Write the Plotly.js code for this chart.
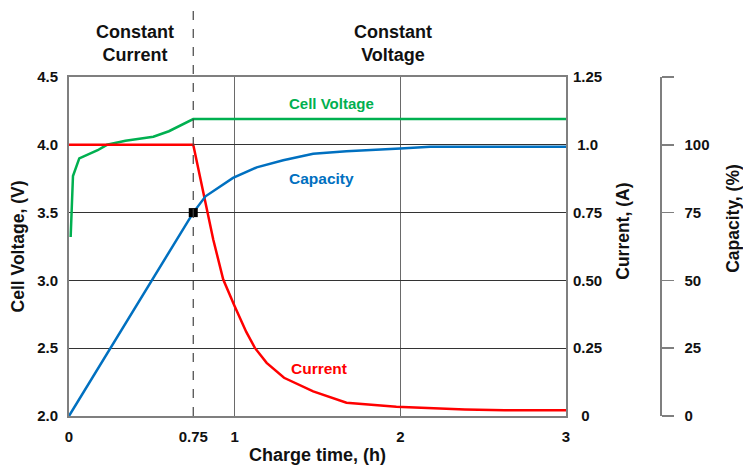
<!DOCTYPE html>
<html>
<head>
<meta charset="utf-8">
<script src="https://cdn.plot.ly/plotly-3.0.1.min.js"></script>
<style>html,body{margin:0;padding:0;background:#fff;}#chart{width:743px;height:467px;}</style>
</head>
<body>
<div id="chart"></div>
<script>
// Charge time (h) tick labels
const timeTicks = [0, 0.75, 1, 2, 3];
const timeTickText = ['0', '0.75', '1', '2', '3'];

// Cell voltage (V)
const voltageTime = [0.01, 0.024, 0.062, 0.173, 0.229, 0.341, 0.425, 0.509, 0.603, 0.733, 0.75, 3.0];
const voltageValues = [3.32, 3.77, 3.90, 3.96, 4.00, 4.03, 4.044, 4.06, 4.10, 4.18, 4.19, 4.19];

// Current (A)
const currentTime = [0, 0.75, 0.871, 0.931, 1.0, 1.07, 1.122, 1.193, 1.298, 1.474, 1.675, 1.81, 1.976, 2.39, 2.63, 3.0];
const currentValues = [1.0, 1.0, 0.65, 0.503, 0.405, 0.31, 0.251, 0.196, 0.141, 0.091, 0.049, 0.042, 0.034, 0.024, 0.021, 0.021];

// Capacity (%)
const capacityTime = [0, 0.75, 0.824, 0.99, 1.133, 1.293, 1.474, 1.675, 2.0, 2.18, 3.0];
const capacityValues = [0, 75, 81, 87.8, 91.7, 94.3, 96.7, 97.6, 98.6, 99.3, 99.3];

// Transition point (end of constant current)
const transitionIndex = 1;

// Axis ticks
const voltageTicks = [2.0, 2.5, 3.0, 3.5, 4.0, 4.5];
const currentTicks = [0, 0.25, 0.5, 0.75, 1.0, 1.25];
const currentTickText = ['\u20070', '0.25', '0.50', '0.75', '\u20081.0', '1.25'];
const capacityTicks = [0, 25, 50, 75, 100, 125];
const capacityTickText = ['0', '25', '50', '75', '100', ''];

const FONT = '"Liberation Sans", Arial, Helvetica, sans-serif';
const GREEN = '#00B050', BLUE = '#0070C0', RED = '#FF0000', AXIS = '#7f7f7f';

const traces = [
  {x: voltageTime, y: voltageValues, yaxis: 'y', type: 'scatter', mode: 'lines',
   line: {color: GREEN, width: 2.5}, name: 'Cell Voltage', hoverinfo: 'skip'},
  {x: capacityTime, y: capacityValues, yaxis: 'y3', type: 'scatter', mode: 'lines',
   line: {color: BLUE, width: 2.5}, name: 'Capacity', hoverinfo: 'skip'},
  {x: currentTime, y: currentValues, yaxis: 'y2', type: 'scatter', mode: 'lines',
   line: {color: RED, width: 2.5}, name: 'Current', hoverinfo: 'skip'},
  {x: [capacityTime[transitionIndex]], y: [capacityValues[transitionIndex]], yaxis: 'y3',
   type: 'scatter', mode: 'markers', marker: {symbol: 'square', color: '#000', size: 9},
   name: 'CC/CV', hoverinfo: 'skip'}
];

const tickFont = {family: FONT, size: 15, color: '#111', weight: 'bold'};
const titleFont = {family: FONT, size: 17.5, color: '#111', weight: 'bold'};

const layout = {
  width: 743, height: 467,
  margin: {l: 69, r: 83, t: 77, b: 50.5, pad: 0},
  paper_bgcolor: '#fff', plot_bgcolor: '#fff',
  showlegend: false,
  xaxis: {
    domain: [0, 497 / 591],
    range: [0, 3], tickvals: timeTicks, ticktext: timeTickText,
    showgrid: false, zeroline: false,
    showline: true, mirror: true, linecolor: AXIS, linewidth: 2,
    ticks: '', tickfont: tickFont, ticklabelstandoff: 6,
    minor: {tickvals: [1, 2], showgrid: true, gridcolor: '#6a6a6a', gridwidth: 1.5, ticks: ''},
    title: {text: 'Charge time, (h)', font: {family: FONT, size: 18, color: '#111', weight: 'bold'}, standoff: 4}
  },
  yaxis: {
    range: [2, 4.5], tickvals: voltageTicks, tickformat: '.1f',
    showgrid: true, gridcolor: '#333', gridwidth: 1, zeroline: false,
    showline: true, mirror: true, linecolor: AXIS, linewidth: 2,
    ticks: '', tickfont: tickFont, ticklabelstandoff: 6,
    title: {text: 'Cell Voltage, (V)', font: titleFont, standoff: 8}
  },
  yaxis2: {
    overlaying: 'y', side: 'right', anchor: 'x',
    range: [0, 1.25], tickvals: currentTicks, ticktext: currentTickText,
    showgrid: false, zeroline: false, showline: false,
    ticks: '', tickfont: tickFont, ticklabelstandoff: 6
  },
  yaxis3: {
    overlaying: 'y', side: 'right', anchor: 'free', position: 1.0,
    range: [0, 125], tickvals: capacityTicks, ticktext: capacityTickText,
    showgrid: false, zeroline: false, showline: true, linecolor: AXIS, linewidth: 1.5,
    ticks: 'outside', ticklen: 12, tickcolor: AXIS, tickwidth: 1.5,
    tickfont: tickFont, ticklabelstandoff: 8
  },
  shapes: [
    {type: 'line', xref: 'x', yref: 'paper', x0: timeTicks[1], x1: timeTicks[1], y0: 0, y1: 1.212,
     line: {color: '#444', width: 1.2, dash: 'dash'}, layer: 'above'}
  ],
  annotations: [
    {text: 'Constant<br>Current', xref: 'x domain', yref: 'paper', x: 0.133, y: 1.10, showarrow: false,
     xanchor: 'center', yanchor: 'middle', font: {family: FONT, size: 18, color: '#111', weight: 'bold'}},
    {text: 'Constant<br>Voltage', xref: 'x domain', yref: 'paper', x: 0.652, y: 1.10, showarrow: false,
     xanchor: 'center', yanchor: 'middle', font: {family: FONT, size: 18, color: '#111', weight: 'bold'}},
    {text: 'Cell Voltage', xref: 'x domain', yref: 'paper', x: 0.5286, y: 0.9205, showarrow: false,
     xanchor: 'center', yanchor: 'middle', font: {family: FONT, size: 15, color: GREEN, weight: 'bold'}},
    {text: 'Capacity', xref: 'x domain', yref: 'paper', x: 0.5085, y: 0.6996, showarrow: false,
     xanchor: 'center', yanchor: 'middle', font: {family: FONT, size: 15.5, color: BLUE, weight: 'bold'}},
    {text: 'Current', xref: 'x domain', yref: 'paper', x: 0.5036, y: 0.1399, showarrow: false,
     xanchor: 'center', yanchor: 'middle', font: {family: FONT, size: 15.5, color: RED, weight: 'bold'}},
    {text: 'Current, (A)', xref: 'x domain', yref: 'paper', x: 1.1147, y: 0.5435, showarrow: false,
     textangle: -90, xanchor: 'center', yanchor: 'middle', font: titleFont},
    {text: 'Capacity, (%)', xref: 'x domain', yref: 'paper', x: 1.336, y: 0.5847, showarrow: false,
     textangle: -90, xanchor: 'center', yanchor: 'middle', font: titleFont}
  ]
};

Plotly.newPlot('chart', traces, layout, {staticPlot: true, displayModeBar: false});
</script>
</body>
</html>
